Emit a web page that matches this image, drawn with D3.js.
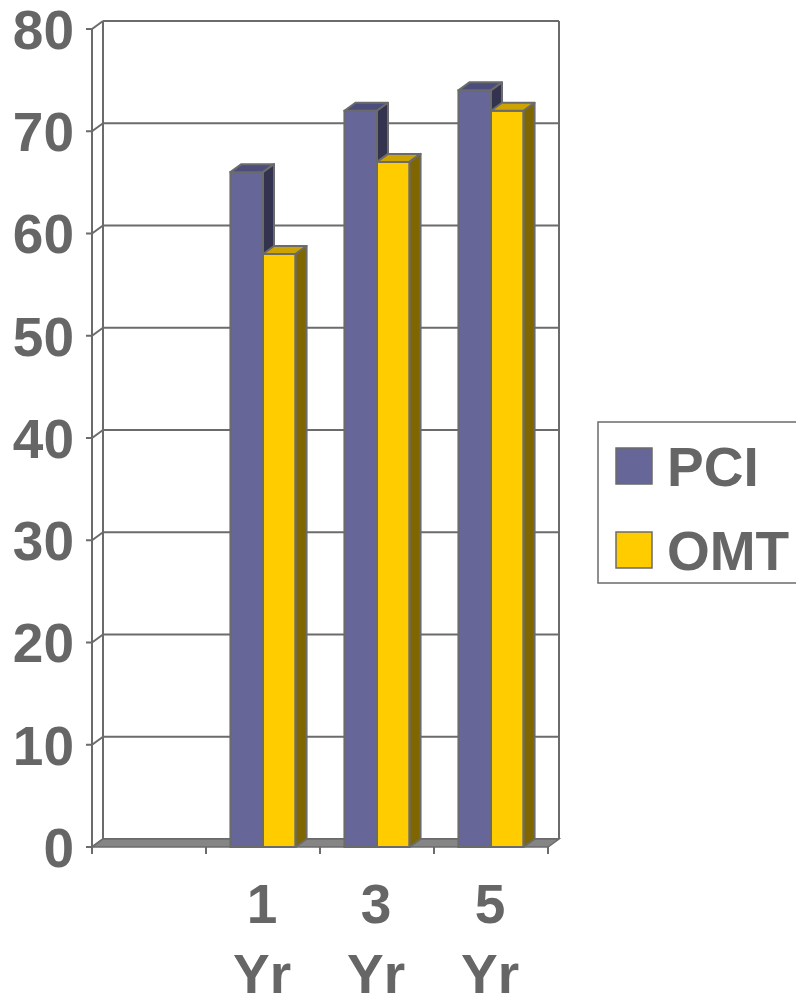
<!DOCTYPE html>
<html>
<head>
<meta charset="utf-8">
<script src="https://cdn.jsdelivr.net/npm/d3@7/dist/d3.min.js"></script>
<style>
  body { margin: 0; background: #fff; }
  text { font-family: "Liberation Sans", Arial, sans-serif; font-weight: bold; fill: #666666; }
</style>
</head>
<body>
<script>
// data
var kategorie = ["", "1 Yr", "3 Yr", "5 Yr"];
var serie = ["PCI", "OMT"];
var wartosciPCI = [null, 66, 72, 74];
var wartosciOMT = [null, 58, 67, 72];
var tikiY = [0, 10, 20, 30, 40, 50, 60, 70, 80];

var kolory = {
  PCI: { front: "#666699", gora: "#4d4d7d", bok: "#33334f" },
  OMT: { front: "#ffcc00", gora: "#cca300", bok: "#806600" }
};
var linia = "#6b6b6b";

var svg = d3.select("body").append("svg")
  .attr("width", 796)
  .attr("height", 997);

// front plane scales, depth offset goes up/right
var dx = 11, dy = -8;
var y = d3.scaleLinear().domain([0, 80]).range([847, 29]);
var x = d3.scaleBand().domain(kategorie).range([92, 548]);
var xs = d3.scaleBand().domain(serie).range([0, x.bandwidth()]).paddingOuter(0.75);

var x0 = x.range()[0], x1 = x.range()[1];

// back wall gridlines
svg.append("g").selectAll("line").data(tikiY).join("line")
  .attr("x1", x0 + dx).attr("x2", x1 + dx)
  .attr("y1", function(d){ return y(d) + dy; })
  .attr("y2", function(d){ return y(d) + dy; })
  .attr("stroke", linia).attr("stroke-width", 2);

// back wall edges
svg.append("line")
  .attr("x1", x0 + dx).attr("x2", x0 + dx)
  .attr("y1", y(80) + dy).attr("y2", y(0) + dy)
  .attr("stroke", linia).attr("stroke-width", 2);
svg.append("line")
  .attr("x1", x1 + dx).attr("x2", x1 + dx)
  .attr("y1", y(80) + dy).attr("y2", y(0) + dy)
  .attr("stroke", linia).attr("stroke-width", 2);

// left wall: front axis line + diagonal ticks
svg.append("line")
  .attr("x1", x0).attr("x2", x0)
  .attr("y1", y(80)).attr("y2", y(0))
  .attr("stroke", linia).attr("stroke-width", 2);
svg.append("g").selectAll("polyline").data(tikiY).join("polyline")
  .attr("points", function(d){
    return (x0 - 6) + "," + y(d) + " " + x0 + "," + y(d) + " " + (x0 + dx) + "," + (y(d) + dy);
  })
  .attr("fill", "none").attr("stroke", linia).attr("stroke-width", 2);

// floor
svg.append("polygon")
  .attr("points", [[x0, y(0)], [x1, y(0)], [x1 + dx, y(0) + dy], [x0 + dx, y(0) + dy]].join(" "))
  .attr("fill", "#858585").attr("stroke", linia).attr("stroke-width", 1.5);

// category ticks
var granice = kategorie.map(function(k){ return x(k); }).concat([x1]);
svg.append("g").selectAll("line").data(granice).join("line")
  .attr("x1", function(d){ return d; }).attr("x2", function(d){ return d; })
  .attr("y1", y(0)).attr("y2", y(0) + 7)
  .attr("stroke", linia).attr("stroke-width", 2);

// bars
var slupki = [];
kategorie.forEach(function(k, i){
  [["PCI", wartosciPCI[i]], ["OMT", wartosciOMT[i]]].forEach(function(p){
    if (p[1] != null) slupki.push({ kat: k, seria: p[0], v: p[1] });
  });
});

var gs = svg.append("g").selectAll("g").data(slupki).join("g");
gs.each(function(d){
  var g = d3.select(this);
  var bx = x(d.kat) + xs(d.seria), bw = xs.bandwidth();
  var top = y(d.v), bot = y(0);
  var k = kolory[d.seria];
  // front
  g.append("rect")
    .attr("x", bx).attr("y", top).attr("width", bw).attr("height", bot - top)
    .attr("fill", k.front).attr("stroke", linia).attr("stroke-width", 2);
  // top
  g.append("polygon")
    .attr("points", [[bx, top], [bx + bw, top], [bx + bw + dx, top + dy], [bx + dx, top + dy]].join(" "))
    .attr("fill", k.gora).attr("stroke", linia).attr("stroke-width", 2).attr("stroke-linejoin", "round");
  // side
  g.append("polygon")
    .attr("points", [[bx + bw, top], [bx + bw + dx, top + dy], [bx + bw + dx, bot + dy], [bx + bw, bot]].join(" "))
    .attr("fill", k.bok).attr("stroke", linia).attr("stroke-width", 2).attr("stroke-linejoin", "round");
});

// y labels
svg.append("g").selectAll("text").data(tikiY).join("text")
  .attr("x", 74)
  .attr("y", function(d){ return y(d); })
  .attr("dy", "0.36em")
  .attr("text-anchor", "end")
  .style("font-size", "55px")
  .text(function(d){ return d; });

// category labels (two lines)
var etykiety = svg.append("g").selectAll("text").data(kategorie.filter(function(k){ return k; })).join("text")
  .attr("text-anchor", "middle")
  .style("font-size", "55px");
etykiety.each(function(k){
  var t = d3.select(this);
  k.split(" ").forEach(function(s, j){
    t.append("tspan")
      .attr("x", x(k) + x.bandwidth() / 2 - 1)
      .attr("y", 923 + j * 70)
      .text(s);
  });
});

// legend
var leg = svg.append("g");
leg.append("rect")
  .attr("x", 598).attr("y", 422).attr("width", 220).attr("height", 161)
  .attr("fill", "#fff").attr("stroke", linia).attr("stroke-width", 1.5);
serie.forEach(function(s, i){
  var yy = 448 + i * 84;
  leg.append("rect")
    .attr("x", 616).attr("y", yy).attr("width", 36).attr("height", 36)
    .attr("fill", kolory[s].front).attr("stroke", linia).attr("stroke-width", 1.5);
  leg.append("text")
    .attr("x", 667).attr("y", yy + 38)
    .style("font-size", "55px")
    .text(s);
});
</script>
</body>
</html>
